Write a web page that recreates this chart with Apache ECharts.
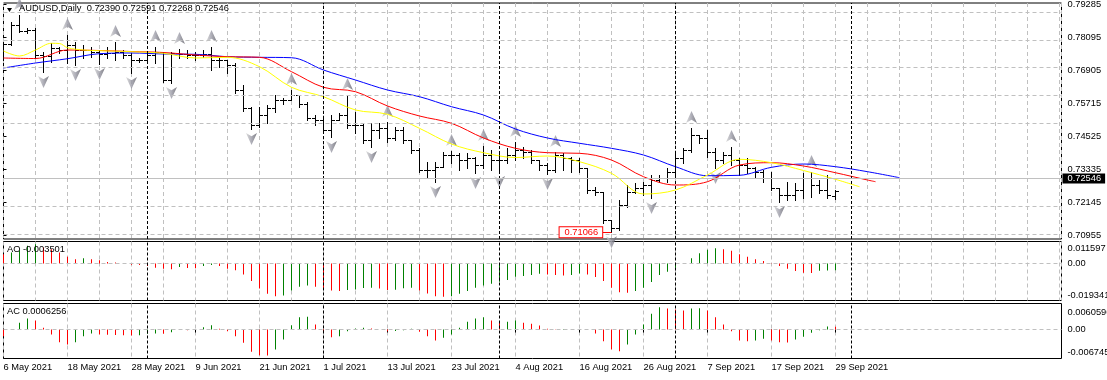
<!DOCTYPE html>
<html><head><meta charset="utf-8">
<script src="https://cdn.jsdelivr.net/npm/echarts@6/dist/echarts.min.js"></script>
<style>html,body{margin:0;padding:0;background:#fff}#c{width:1107px;height:380px}</style>
</head><body><div id="c"></div>
<script>
// ---------- data ----------
const dateIdx = [0,8,16,24,32,40,48,56,64,72,80,88,96,104];
const dateLabels = ['6 May 2021','18 May 2021','28 May 2021','9 Jun 2021','21 Jun 2021','1 Jul 2021','13 Jul 2021','23 Jul 2021','4 Aug 2021','16 Aug 2021','26 Aug 2021','7 Sep 2021','17 Sep 2021','29 Sep 2021'];
const monthStartIdx = [18,40,62,84,106];
const priceTicks = [0.70955,0.72145,0.73335,0.74525,0.75715,0.76905,0.78095,0.79285];

const opens = [0.77457,0.77853,0.78538,0.78322,0.78358,0.77457,0.77421,0.77709,0.77637,0.77817,
0.77637,0.77637,0.77565,0.77493,0.77529,0.77565,0.77457,0.77276,0.77276,0.77457,
0.77565,0.76555,0.77529,0.77493,0.77457,0.77457,0.77493,0.77276,0.77276,0.77096,
0.76195,0.75546,0.74933,0.75293,0.75546,0.75834,0.75834,0.76014,0.75690,0.75185,
0.75113,0.74752,0.75113,0.75293,0.74933,0.74933,0.74392,0.74752,0.74824,0.74464,
0.74752,0.74392,0.74031,0.73310,0.73310,0.73418,0.73851,0.73851,0.73670,0.73743,
0.73490,0.73851,0.73670,0.73670,0.73851,0.74031,0.73959,0.73670,0.73490,0.73310,
0.73851,0.73743,0.73670,0.73382,0.72589,0.72517,0.71507,0.71218,0.72048,0.72517,
0.72661,0.72769,0.72949,0.73021,0.73238,0.73743,0.74031,0.74572,0.74464,0.73959,
0.73670,0.73851,0.73670,0.73490,0.73382,0.73238,0.73021,0.72661,0.72409,0.72409,
0.72589,0.73021,0.72769,0.72589,0.72390];
const highs = [0.77925,0.78647,0.78899,0.78430,0.78430,0.77565,0.77889,0.77745,0.78178,0.77925,
0.77817,0.77745,0.77637,0.77745,0.77925,0.77637,0.77529,0.77349,0.77565,0.77745,
0.77565,0.77565,0.77673,0.77637,0.77565,0.77637,0.77745,0.77385,0.77276,0.77168,
0.76375,0.75582,0.75582,0.75654,0.76014,0.75906,0.76195,0.76014,0.75762,0.75293,
0.75185,0.75293,0.75365,0.76014,0.75401,0.75005,0.75005,0.75005,0.75041,0.74860,
0.74860,0.74392,0.74103,0.73598,0.73598,0.73959,0.73995,0.73923,0.73923,0.73779,
0.74176,0.74031,0.73923,0.74103,0.74320,0.74140,0.74031,0.73670,0.73562,0.73959,
0.73923,0.73779,0.73743,0.73382,0.72697,0.72517,0.71507,0.72228,0.72769,0.72841,
0.72877,0.73130,0.73130,0.73382,0.73923,0.74103,0.74824,0.74572,0.74752,0.74103,
0.73959,0.74140,0.73743,0.73743,0.73418,0.73310,0.73238,0.72661,0.72877,0.72841,
0.73202,0.73238,0.72949,0.73130,0.72591];
const lows = [0.77276,0.77817,0.78286,0.78250,0.77349,0.76844,0.77204,0.77529,0.77168,0.77096,
0.77349,0.77385,0.77132,0.77349,0.77276,0.77349,0.76808,0.77204,0.77276,0.77168,
0.76483,0.76447,0.77349,0.77349,0.77276,0.77385,0.76916,0.77024,0.76808,0.76086,
0.75437,0.74788,0.74860,0.75005,0.75401,0.75690,0.75834,0.75582,0.75113,0.74933,
0.74680,0.74500,0.75113,0.74824,0.74644,0.74284,0.74140,0.74464,0.74320,0.74392,
0.74284,0.73923,0.73238,0.73057,0.72877,0.73418,0.73562,0.73310,0.73382,0.73202,
0.73382,0.73310,0.73238,0.73562,0.73670,0.73743,0.73562,0.73310,0.73166,0.73238,
0.73310,0.73238,0.73238,0.72481,0.72409,0.71399,0.71066,0.71146,0.71976,0.72481,
0.72409,0.72301,0.72877,0.72877,0.73057,0.73562,0.73959,0.74284,0.73779,0.73382,
0.73562,0.73490,0.73130,0.73202,0.73057,0.72877,0.72589,0.72156,0.72228,0.72228,
0.72301,0.72337,0.72481,0.72301,0.72268];
const closes = [0.77853,0.78538,0.78322,0.78358,0.77457,0.77421,0.77709,0.77637,0.77817,0.77637,
0.77637,0.77565,0.77493,0.77529,0.77565,0.77457,0.77276,0.77276,0.77457,0.77565,
0.76555,0.77529,0.77493,0.77457,0.77457,0.77493,0.77276,0.77276,0.77096,0.76195,
0.75546,0.74933,0.75293,0.75546,0.75834,0.75834,0.76014,0.75690,0.75185,0.75113,
0.74752,0.75113,0.75293,0.74933,0.74933,0.74392,0.74752,0.74824,0.74464,0.74752,
0.74392,0.74031,0.73310,0.73310,0.73418,0.73851,0.73851,0.73670,0.73743,0.73490,
0.73851,0.73670,0.73670,0.73851,0.74031,0.73959,0.73670,0.73490,0.73310,0.73851,
0.73743,0.73670,0.73382,0.72589,0.72517,0.71507,0.71218,0.72048,0.72517,0.72661,
0.72769,0.72949,0.73021,0.73238,0.73743,0.74031,0.74572,0.74464,0.73959,0.73670,
0.73851,0.73670,0.73490,0.73382,0.73238,0.73021,0.72661,0.72409,0.72409,0.72589,
0.73021,0.72769,0.72589,0.72409,0.72546];

// Alligator lines read at sampled bars
const jawIdx = [0,4,8,12,16,20,24,28,32,36,40,44,48,52,56,60,64,68,72,76,80,84,88,92,96,100,104,108,112];
const jawVal = [0.76988,0.77168,0.77323,0.77504,0.77529,0.77493,0.77482,0.77395,0.77374,0.77359,0.76916,0.76555,0.76195,0.75953,0.75592,0.75293,0.74788,0.74464,0.74273,0.74092,0.73851,0.73429,0.73104,0.73119,0.73407,0.73526,0.73429,0.73249,0.73032];
const teethIdx = [0,4,8,12,16,20,24,28,32,36,40,44,48,52,56,60,64,68,72,76,80,84,88,92,96,100,104,108,109];
const teethVal = [0.77349,0.77330,0.77637,0.77619,0.77583,0.77547,0.77457,0.77395,0.77374,0.76855,0.76292,0.76133,0.75618,0.75257,0.74994,0.74464,0.74092,0.73934,0.73912,0.73670,0.73068,0.72769,0.72888,0.73490,0.73573,0.73454,0.73212,0.72949,0.72888];
const lipsIdx = [0,2,4,6,7,8,10,12,16,20,24,28,32,36,40,44,48,52,56,60,64,68,72,76,80,84,88,92,96,100,104,107];
const lipsVal = [0.77601,0.77421,0.77637,0.77879,0.77871,0.77720,0.77637,0.77612,0.77576,0.77518,0.77349,0.77374,0.77035,0.76292,0.75953,0.75474,0.75318,0.74813,0.74247,0.73934,0.73760,0.73815,0.73609,0.73191,0.72445,0.72589,0.73130,0.73696,0.73573,0.73292,0.72974,0.72707];

const fractalUpIdx = [2,8,14,19,22,26,36,43,48,56,60,64,69,86,91,101];
const fractalDownIdx = [5,9,12,16,21,31,41,46,54,59,62,68,76,81,89,97];

const aoValues = [0.00491,0.00581,0.00702,0.00935,0.01019,0.00845,0.00755,0.00581,0.00354,0.00227,
0.00280,0.00227,0.00174,0.00090,0.00053,0.00016,-0.00053,-0.00069,-0.00121,-0.00211,
-0.00264,-0.00301,-0.00174,-0.00227,-0.00248,-0.00121,-0.00069,-0.00121,-0.00264,-0.00354,
-0.00565,-0.00913,-0.01304,-0.01584,-0.01705,-0.01674,-0.01410,-0.01214,-0.01146,-0.01214,
-0.01304,-0.01410,-0.01441,-0.01389,-0.01357,-0.01283,-0.01267,-0.01304,-0.01389,-0.01373,
-0.01294,-0.01267,-0.01410,-0.01568,-0.01705,-0.01742,-0.01705,-0.01584,-0.01441,-0.01267,
-0.01146,-0.01056,-0.00950,-0.00861,-0.00686,-0.00649,-0.00597,-0.00528,-0.00565,-0.00597,
-0.00618,-0.00597,-0.00512,-0.00565,-0.00702,-0.00913,-0.01267,-0.01505,-0.01531,-0.01441,
-0.01267,-0.00966,-0.00597,-0.00422,-0.00211,0.00037,0.00280,0.00544,0.00723,0.00808,
0.00755,0.00671,0.00491,0.00354,0.00227,0.00143,0.00016,-0.00121,-0.00264,-0.00385,
-0.00475,-0.00491,-0.00370,-0.00359,-0.003501];
const acValues = [-0.00156,0.00000,0.00156,0.00256,0.00210,0.00040,-0.00116,-0.00296,-0.00349,-0.00296,
-0.00156,-0.00093,-0.00116,-0.00123,-0.00128,-0.00133,-0.00140,-0.00133,-0.00100,-0.00093,
-0.00100,-0.00063,-0.00012,-0.00016,-0.00007,0.00054,0.00100,0.00016,-0.00040,-0.00156,
-0.00310,-0.00519,-0.00598,-0.00605,-0.00466,-0.00233,0.00100,0.00286,0.00296,0.00116,
-0.00023,-0.00179,-0.00156,-0.00040,0.00023,0.00040,0.00023,0.00000,-0.00040,-0.00035,
-0.00016,0.00016,-0.00054,-0.00156,-0.00256,-0.00193,-0.00116,0.00040,0.00179,0.00256,
0.00286,0.00210,0.00163,0.00179,0.00210,0.00156,0.00133,0.00093,0.00016,0.00007,
0.00012,0.00007,0.00000,-0.00012,-0.00093,-0.00272,-0.00466,-0.00505,-0.00349,-0.00116,
0.00116,0.00365,0.00519,0.00489,0.00466,0.00442,0.00489,0.00496,0.00442,0.00286,
0.00116,-0.00040,-0.00256,-0.00272,-0.00256,-0.00216,-0.00256,-0.00296,-0.00303,-0.00233,
-0.00170,-0.00077,-0.00016,0.00070,0.0006256];

const aoRange = [-0.019341, 0, 0.011597];
const acRange = [-0.0067454, 0, 0.0060596];
const lowIdx = 76, lowPrice = 0.71066;

// ---------- chart ----------
const FONT = 'Liberation Sans', FS = 9.3;
const GREEN = '#008000', RED = '#ff0000';
const GL = 3.5, GW = 1058, XMAX = 132.25;
const last = closes.length - 1;
const lastPrice = closes[last];

const chart = echarts.init(document.getElementById('c'), null, {renderer: 'canvas', width: 1107, height: 380});

function histColors(vals) {
  return vals.map((v, i) => i === 0 ? RED : (v > vals[i - 1] ? GREEN : RED));
}
function histData(vals) {
  const cols = histColors(vals);
  return vals.map((v, i) => ({value: [i, v], itemStyle: {color: cols[i]}}));
}
const gridLine = {color: '#c0c0c0', type: [4, 3], width: 1};
function xAxisFor(gi, showLabels) {
  return {
    type: 'value', gridIndex: gi, min: 0, max: XMAX, interval: 4,
    axisLine: {show: false},
    axisTick: showLabels ? {show: true, customValues: dateIdx, length: 3, lineStyle: {color: '#000'}} : {show: false},
    axisLabel: showLabels ? {show: true, customValues: dateIdx, align: 'left', margin: 4, color: '#000',
      fontFamily: FONT, fontSize: FS, formatter: v => { const k = dateIdx.indexOf(v); return k >= 0 ? dateLabels[k] : ''; }} : {show: false},
    splitLine: {show: true, lineStyle: gridLine}
  };
}
function panelYAxis(gi, range, padTop, padBottom) {
  return {
    type: 'value', gridIndex: gi, position: 'right', min: range[0], max: range[2],
    axisLine: {show: false}, splitLine: {show: false},
    axisTick: {show: true, customValues: range, length: 3, lineStyle: {color: '#000'}},
    axisLabel: {show: true, customValues: range, margin: 6, color: '#000', fontFamily: FONT, fontSize: FS,
      showMinLabel: true, showMaxLabel: true,
      formatter: v => v === 0 ? '0.00' : (v > 0 ? '{t|' + v + '}' : '{b|' + v + '}'),
      rich: {
        t: {padding: [padTop, 0, 0, 0], fontFamily: FONT, fontSize: FS, color: '#000'},
        b: {padding: [0, 0, padBottom, 0], fontFamily: FONT, fontSize: FS, color: '#000'}
      }}
  };
}
const sepLines = monthStartIdx.map(i => ({xAxis: i, lineStyle: {color: '#000', type: [3, 2], width: 1}}));
const titleStyle = {fontSize: FS, fontWeight: 'normal', color: '#000', fontFamily: FONT};

const upSym = 'path://M5 0L10 11L5 8L0 11Z';
const downSym = 'path://M0 0L5 3L10 0L5 11Z';
const arrowColor = new echarts.graphic.LinearGradient(0, 0, 1, 0, [
  {offset: 0, color: '#d4d4d4'}, {offset: 0.5, color: '#9a9aa6'}, {offset: 1, color: '#5e5e66'}]);

const gridBase = {left: GL, width: GW, show: true, borderColor: '#000', borderWidth: 1, backgroundColor: '#fff',
  containLabel: false, outerBoundsMode: 'none'};

const option = {
  animation: false,
  backgroundColor: '#fff',
  textStyle: {fontFamily: FONT},
  title: [
    {text: 'AUDUSD,Daily  ' + [opens[last], highs[last], lows[last], closes[last]].map(v => v.toFixed(5)).join(' '),
     left: 19, top: 4, padding: 0, textStyle: titleStyle, z: 10},
    {text: 'AO ' + aoValues[last].toFixed(6), left: 7, top: 244.5, padding: 0, textStyle: titleStyle, z: 10},
    {text: 'AC ' + acValues[last].toFixed(7), left: 7, top: 307, padding: 0, textStyle: titleStyle, z: 10}
  ],
  graphic: [{type: 'polygon', shape: {points: [[7, 8], [12, 8], [9.5, 12]]}, style: {fill: '#000'}, z: 10}],
  grid: [
    Object.assign({}, gridBase, {top: 3, height: 236}),
    Object.assign({}, gridBase, {top: 241.5, height: 59}),
    Object.assign({}, gridBase, {top: 303.5, height: 55})
  ],
  xAxis: [xAxisFor(0, false), xAxisFor(1, false), xAxisFor(2, true)],
  yAxis: [
    {type: 'value', gridIndex: 0, position: 'right', min: 0.70822, max: 0.79332,
     axisLine: {show: false}, splitLine: {show: false},
     axisTick: {show: true, customValues: priceTicks, length: 3, lineStyle: {color: '#000'}},
     axisLabel: {show: true, customValues: priceTicks, margin: 6, color: '#000', fontFamily: FONT, fontSize: FS,
       formatter: v => v.toFixed(5)}},
    panelYAxis(1, aoRange, 13, 11),
    panelYAxis(2, acRange, 18, 12)
  ],
  series: [
    {type: 'line', xAxisIndex: 0, yAxisIndex: 0, data: [], z: 1, silent: true,
     markLine: {symbol: 'none', silent: true, animation: false,
       label: {show: false},
       data: [
         ...priceTicks.map(p => ({yAxis: p, lineStyle: gridLine})),
         ...sepLines,
         {yAxis: lastPrice, lineStyle: {color: '#c0c0c0', type: 'solid', width: 1},
          label: {show: true, position: 'end', distance: 1, formatter: lastPrice.toFixed(5),
            color: '#fff', backgroundColor: '#000', padding: [1, 4, 0, 5], fontFamily: FONT, fontSize: FS}}
       ]}},
    {type: 'custom', xAxisIndex: 0, yAxisIndex: 0, clip: true, z: 3,
     data: closes.map((c, i) => [i, opens[i], highs[i], lows[i], c]),
     encode: {x: 0, y: [1, 2, 3, 4]},
     renderItem: function (params, api) {
       const x = api.value(0);
       const pO = api.coord([x, api.value(1)]);
       const pH = api.coord([x, api.value(2)]);
       const pL = api.coord([x, api.value(3)]);
       const pC = api.coord([x, api.value(4)]);
       const cx = pH[0];
       const snap = y => Math.round(y) + 0.5;
       const st = {stroke: '#000', lineWidth: 1};
       return {type: 'group', children: [
         {type: 'line', shape: {x1: cx, y1: Math.round(pH[1]), x2: cx, y2: Math.round(pL[1]) + 1}, style: st},
         {type: 'line', shape: {x1: cx - 3.5, y1: snap(pO[1]), x2: cx, y2: snap(pO[1])}, style: st},
         {type: 'line', shape: {x1: cx, y1: snap(pC[1]), x2: cx + 3.5, y2: snap(pC[1])}, style: st}
       ]};
     }},
    {type: 'line', name: 'Jaw', xAxisIndex: 0, yAxisIndex: 0, smooth: 0.35, symbol: 'none', z: 4,
     lineStyle: {color: '#0000ff', width: 1}, data: jawIdx.map((x, k) => [x, jawVal[k]])},
    {type: 'line', name: 'Teeth', xAxisIndex: 0, yAxisIndex: 0, smooth: 0.35, symbol: 'none', z: 4,
     lineStyle: {color: '#ff0000', width: 1}, data: teethIdx.map((x, k) => [x, teethVal[k]])},
    {type: 'line', name: 'Lips', xAxisIndex: 0, yAxisIndex: 0, smooth: 0.35, symbol: 'none', z: 4,
     lineStyle: {color: '#ffff00', width: 1}, data: lipsIdx.map((x, k) => [x, lipsVal[k]])},
    {type: 'scatter', xAxisIndex: 0, yAxisIndex: 0, symbol: upSym, symbolSize: [11, 12], symbolOffset: [0, -11], z: 2,
     itemStyle: {color: arrowColor}, data: fractalUpIdx.map(i => [i, highs[i]])},
    {type: 'scatter', xAxisIndex: 0, yAxisIndex: 0, symbol: downSym, symbolSize: [11, 12], symbolOffset: [0, 10], z: 2,
     itemStyle: {color: arrowColor}, data: fractalDownIdx.map(i => [i, lows[i]])},
    {type: 'line', xAxisIndex: 0, yAxisIndex: 0, data: [], z: 6, silent: true,
     markLine: {symbol: 'none', silent: true, label: {show: false},
       data: [[{coord: [lowIdx - 1.1, lowPrice]}, {coord: [lowIdx, lowPrice]}]],
       lineStyle: {color: '#ff0000', type: 'solid', width: 1}},
     markPoint: {silent: true, symbol: 'rect', symbolSize: 1, itemStyle: {color: 'rgba(0,0,0,0)'},
       data: [{coord: [lowIdx - 1.1, lowPrice],
         label: {show: true, position: 'left', distance: 0, formatter: lowPrice.toFixed(5), color: '#ff0000',
           borderColor: '#ff0000', borderWidth: 1, backgroundColor: '#fff', padding: [1, 4, 0, 5],
           fontFamily: FONT, fontSize: FS}}]}},
    {type: 'line', xAxisIndex: 1, yAxisIndex: 1, data: [], z: 1, silent: true,
     markLine: {symbol: 'none', silent: true, label: {show: false},
       data: [{yAxis: 0, lineStyle: gridLine}, ...sepLines]}},
    {type: 'bar', xAxisIndex: 1, yAxisIndex: 1, barWidth: 1, z: 3, data: histData(aoValues)},
    {type: 'line', xAxisIndex: 2, yAxisIndex: 2, data: [], z: 1, silent: true,
     markLine: {symbol: 'none', silent: true, label: {show: false},
       data: [{yAxis: 0, lineStyle: gridLine}, ...sepLines]}},
    {type: 'bar', xAxisIndex: 2, yAxisIndex: 2, barWidth: 1, z: 3, data: histData(acValues)}
  ]
};
chart.setOption(option);
</script>
</body></html>
